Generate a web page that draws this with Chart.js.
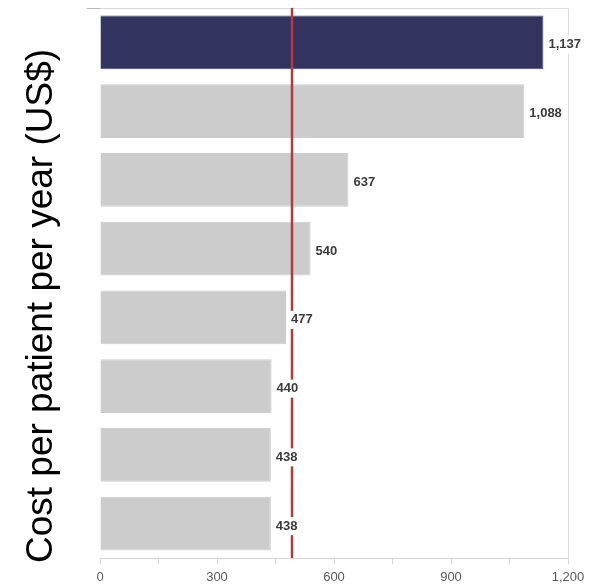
<!DOCTYPE html>
<html>
<head>
<meta charset="utf-8">
<script src="https://cdn.jsdelivr.net/npm/chart.js@4/dist/chart.umd.min.js"></script>
<style>
  html, body { margin: 0; padding: 0; background: #fff; }
  #wrap { width: 598px; height: 588px; }
</style>
</head>
<body>
<div id="wrap"><canvas id="c" width="598" height="588"></canvas></div>
<script>
// Annual cost per patient, one bar per option
const categories = ['Option 1', 'Option 2', 'Option 3', 'Option 4', 'Option 5', 'Option 6', 'Option 7', 'Option 8'];
const costs = [1137, 1088, 637, 540, 477, 440, 438, 438];
const barColors = ['#33335f', '#cccccc', '#cccccc', '#cccccc', '#cccccc', '#cccccc', '#cccccc', '#cccccc'];
const referenceCost = [492];
const xTicks = [0, 300, 600, 900, 1200];
const axisTitle = 'Cost per patient per year (US$)';

const fmt = v => v.toLocaleString('en-US');
const FONT = '"Liberation Sans", Arial, sans-serif';

// Axis title, reference line, value labels and the light frame on top/right
const overlay = {
  id: 'overlay',
  beforeDatasetsDraw(chart) {
    const { ctx, chartArea: a } = chart;
    ctx.save();
    ctx.strokeStyle = '#dcdcdc';
    ctx.lineWidth = 1;
    ctx.beginPath();
    ctx.moveTo(a.left, a.top + 0.5);
    ctx.lineTo(a.right + 0.5, a.top + 0.5);
    ctx.lineTo(a.right + 0.5, a.bottom);
    ctx.stroke();
    ctx.strokeStyle = '#b8b8b8';
    ctx.beginPath();
    ctx.moveTo(a.left - 13, a.top + 0.5);
    ctx.lineTo(a.left, a.top + 0.5);
    ctx.stroke();

    // rotated y-axis title
    ctx.translate(52, (a.top + a.bottom) / 2 + 23);
    ctx.rotate(-Math.PI / 2);
    ctx.font = '37px ' + FONT;
    ctx.fillStyle = '#000000';
    ctx.textAlign = 'center';
    ctx.textBaseline = 'alphabetic';
    ctx.fillText(axisTitle, 0, 0);
    ctx.restore();
  },
  afterDatasetsDraw(chart) {
    const { ctx, chartArea: a, scales: { x } } = chart;
    ctx.save();
    const rx = Math.round(x.getPixelForValue(referenceCost[0]));
    ctx.strokeStyle = '#b23b3b';
    ctx.lineWidth = 2.5;
    ctx.beginPath();
    ctx.moveTo(rx, a.top);
    ctx.lineTo(rx, a.bottom);
    ctx.stroke();

    ctx.font = 'bold 13px ' + FONT;
    ctx.textBaseline = 'middle';
    ctx.textAlign = 'left';
    const meta = chart.getDatasetMeta(0);
    meta.data.forEach((bar, i) => {
      const txt = fmt(costs[i]);
      const tx = bar.x + 5;
      const ty = bar.y + 2.5;
      const w = ctx.measureText(txt).width;
      ctx.fillStyle = '#ffffff';
      ctx.fillRect(tx - 2, ty - 9, w + 4, 18);
      ctx.fillStyle = '#3c3c3c';
      ctx.fillText(txt, tx, ty);
    });
    ctx.restore();
  }
};

new Chart(document.getElementById('c'), {
  type: 'bar',
  data: {
    labels: categories,
    datasets: [{
      data: costs,
      backgroundColor: barColors,
      borderColor: barColors.map((c, i) => i === 0 ? '#4a4a7c' : c),
      borderWidth: 1,
      categoryPercentage: 0.78,
      barPercentage: 1
    }]
  },
  options: {
    indexAxis: 'y',
    responsive: false,
    animation: false,
    devicePixelRatio: 1,
    layout: { padding: { top: 8, right: 30, bottom: 0, left: 0 } },
    plugins: { legend: { display: false }, tooltip: { enabled: false } },
    scales: {
      x: {
        min: 0,
        max: 1200,
        afterBuildTicks(scale) {
          const t = [];
          for (let v = 0; v <= 1200; v += 150) t.push({ value: v });
          scale.ticks = t;
        },
        afterFit(scale) { scale.height = 30; },
        grid: { display: true, drawOnChartArea: false, drawTicks: true, tickLength: 6, color: '#d4d4d4' },
        border: { display: true, color: '#d4d4d4', width: 1 },
        ticks: {
          padding: 6,
          color: '#5a5a5a',
          font: { family: FONT, size: 13 },
          callback: v => xTicks.includes(v) ? fmt(v) : ''
        }
      },
      y: {
        afterFit(scale) { scale.width = 100; },
        grid: { display: false },
        border: { display: false },
        ticks: { display: false },
        title: { display: false, text: axisTitle }
      }
    }
  },
  plugins: [overlay]
});
</script>
</body>
</html>
